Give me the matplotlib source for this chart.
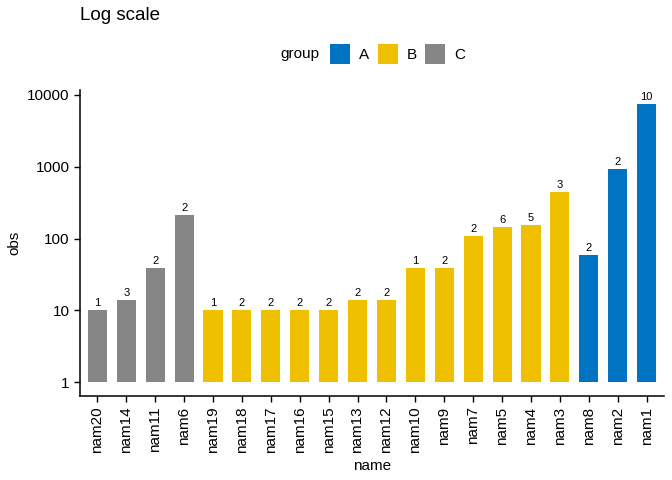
import matplotlib
matplotlib.use("Agg")
import matplotlib.pyplot as plt
from matplotlib.patches import Patch
import numpy as np

plt.rcParams['font.family'] = ['Liberation Sans', 'DejaVu Sans']

names = ["nam20", "nam14", "nam11", "nam6", "nam19", "nam18", "nam17", "nam16", "nam15",
         "nam13", "nam12", "nam10", "nam9", "nam7", "nam5", "nam4", "nam3", "nam8", "nam2", "nam1"]
obs = [10, 14, 39, 212, 10, 10, 10, 10, 10, 14, 14, 39, 39, 108, 144, 154, 443, 59, 926, 7450]
groups = ["C", "C", "C", "C", "B", "B", "B", "B", "B", "B", "B", "B", "B", "B", "B", "B", "B", "A", "A", "A"]
counts = [1, 3, 2, 2, 1, 2, 2, 2, 2, 2, 2, 1, 2, 2, 6, 5, 3, 2, 2, 10]
group_levels = ["A", "B", "C"]
palette = {"A": "#0073C2", "B": "#EFC000", "C": "#868686"}

fig = plt.figure(figsize=(6.72, 4.8), dpi=100)
ax = fig.add_axes([80/672, 1 - 396/480, (664-80)/672, (396-90)/480])

x = np.arange(len(names))
base = 1.0
ax.bar(x, np.array(obs) - base, bottom=base, width=0.66,
       color=[palette[g] for g in groups], zorder=2)
for xi, yi, c in zip(x, obs, counts):
    ax.annotate(str(c), (xi, yi), xytext=(0, 1.5), textcoords="offset points",
                ha="center", va="bottom", fontsize=8, color="black")

ax.set_yscale("log")
ax.set_ylim(10**(-0.19), 10**4.067)
ax.set_xlim(-0.6, len(names) - 1 + 0.6)
ax.set_yticks([1, 10, 100, 1000, 10000])
ax.set_yticklabels(["1", "10", "100", "1000", "10000"])
ax.minorticks_off()
ax.set_xticks(x)
ax.set_xticklabels(names, rotation=90)
ax.tick_params(axis="both", labelsize=11, colors="black", length=4, width=1)
for s in ["top", "right"]:
    ax.spines[s].set_visible(False)
for s in ["left", "bottom"]:
    ax.spines[s].set_linewidth(1.1)
ax.set_xlabel("name", fontsize=11)
ax.set_ylabel("obs", fontsize=11)

fig.text(80/672, 1 - 16/480, "Log scale", fontsize=13.5, ha="left", va="center")
fig.text(300/672, 1 - 54/480, "group", fontsize=11, ha="center", va="center")
handles = [Patch(facecolor=palette[g], edgecolor="none") for g in group_levels]
fig.legend(handles, group_levels, loc="center left", bbox_to_anchor=(330/672, 1 - 54/480),
           ncol=3, frameon=False, fontsize=11, handlelength=1.31, handleheight=1.7,
           handletextpad=0.59, columnspacing=0.55, borderaxespad=0, borderpad=0)

fig.savefig("out.png", dpi=100)
